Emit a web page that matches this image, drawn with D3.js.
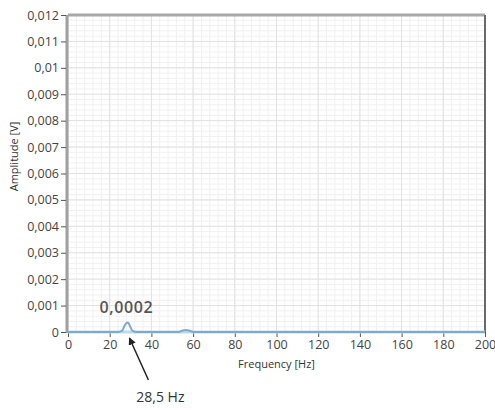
<!DOCTYPE html>
<meta charset="utf-8">
<title>Amplitude spectrum</title>
<script src="https://d3js.org/d3.v7.min.js"></script>
<style>
  body { margin: 0; background: #fff; }
  text { font-family: "Open Sans", sans-serif; }
</style>
<div id="my_dataviz"></div>
<script>

// spectrum
var freq = [0, 24, 26, 27, 28, 28.5, 29, 30, 31, 33, 53, 55, 56.5, 58, 60, 200];
var amp  = [0, 0, 0.00005, 0.00022, 0.00034, 0.00036, 0.00034, 0.00018, 0.00004, 0, 0, 0.00006, 0.00008, 0.00006, 0, 0];

var xTicks = [0, 20, 40, 60, 80, 100, 120, 140, 160, 180, 200];
var yTicks = [0, 0.001, 0.002, 0.003, 0.004, 0.005, 0.006, 0.007, 0.008, 0.009, 0.01, 0.011, 0.012];
var yTickLabels = ["0", "0,001", "0,002", "0,003", "0,004", "0,005", "0,006", "0,007", "0,008", "0,009", "0,01", "0,011", "0,012"];

var peakFreq = 28.5, peakLabel = "0,0002", peakNote = "28,5 Hz";

var margin = {top: 15, right: 10, bottom: 78, left: 68},
    width = 495 - margin.left - margin.right,
    height = 410 - margin.top - margin.bottom;

var svg = d3.select("#my_dataviz")
  .append("svg")
    .attr("width", 495)
    .attr("height", 410)
  .append("g")
    .attr("transform", "translate(" + margin.left + "," + margin.top + ")");

var x = d3.scaleLinear().domain([0, 200]).range([0, width]);
var y = d3.scaleLinear().domain([0, 0.012]).range([height, 0]);

// minor grid
var minorX = d3.range(0, 200.01, 4), minorY = d3.range(0, 0.01201, 0.0002);
svg.append("g").selectAll("line").data(minorX).enter().append("line")
  .attr("x1", d => x(d)).attr("x2", d => x(d)).attr("y1", 0).attr("y2", height)
  .attr("stroke", "#f1f1f1");
svg.append("g").selectAll("line").data(minorY).enter().append("line")
  .attr("y1", d => y(d)).attr("y2", d => y(d)).attr("x1", 0).attr("x2", width)
  .attr("stroke", "#f1f1f1");
// major grid
svg.append("g").selectAll("line").data(xTicks).enter().append("line")
  .attr("x1", d => x(d)).attr("x2", d => x(d)).attr("y1", 0).attr("y2", height)
  .attr("stroke", "#e2e2e2");
svg.append("g").selectAll("line").data(yTicks).enter().append("line")
  .attr("y1", d => y(d)).attr("y2", d => y(d)).attr("x1", 0).attr("x2", width)
  .attr("stroke", "#e2e2e2");

// frame
svg.append("line").attr("x1", 0).attr("x2", width).attr("y1", 0).attr("y2", 0)
  .attr("stroke", "#a8a8a8").attr("stroke-width", 3);
svg.append("line").attr("x1", width).attr("x2", width).attr("y1", 0).attr("y2", height)
  .attr("stroke", "#6a6a6a").attr("stroke-width", 2);
svg.append("line").attr("x1", -1).attr("x2", -1).attr("y1", 0).attr("y2", height + 1)
  .attr("stroke", "#a0a0a0").attr("stroke-width", 3);

// axes
var xAxis = svg.append("g")
  .attr("transform", "translate(0," + height + ")")
  .call(d3.axisBottom(x).tickValues(xTicks).tickSize(5).tickPadding(3));
var yAxis = svg.append("g")
  .attr("transform", "translate(-2,0)")
  .call(d3.axisLeft(y).tickValues(yTicks).tickSize(5).tickPadding(2)
    .tickFormat((d, i) => yTickLabels[i]));
[xAxis, yAxis].forEach(function(a) {
  a.select(".domain").remove();
  a.selectAll(".tick line").attr("stroke", "#555");
  a.selectAll(".tick text").attr("fill", "#444").attr("font-size", "12.5px")
    .style("font-family", "Open Sans, sans-serif");
});

// baseline + trace
svg.append("line").attr("x1", 0).attr("x2", width).attr("y1", y(0)).attr("y2", y(0))
  .attr("stroke", "#bcdbe6").attr("stroke-width", 3);
var line = d3.line().x(d => x(d[0])).y(d => y(d[1])).curve(d3.curveMonotoneX);
svg.append("path")
  .datum(freq.map((f, i) => [f, amp[i]]))
  .attr("d", line)
  .attr("fill", "none")
  .attr("stroke", "#7eaacd")
  .attr("stroke-width", 2);

// axis titles
svg.append("text")
  .attr("x", width / 2).attr("y", height + 36)
  .attr("text-anchor", "middle").attr("font-size", "11px").attr("fill", "#333")
  .text("Frequency [Hz]");
svg.append("text")
  .attr("transform", "rotate(-90)")
  .attr("x", -height / 2 + 17).attr("y", -50)
  .attr("text-anchor", "middle").attr("font-size", "11px").attr("fill", "#333")
  .text("Amplitude [V]");

// annotations
svg.append("text")
  .attr("x", x(peakFreq) - 1).attr("y", y(0.001) + 7)
  .attr("text-anchor", "middle").attr("font-size", "16px").attr("font-weight", 600)
  .attr("letter-spacing", "0.6px")
  .attr("fill", "#555").text(peakLabel);

svg.append("defs").append("marker")
  .attr("id", "arr").attr("viewBox", "0 0 10 10").attr("refX", 9).attr("refY", 5)
  .attr("markerWidth", 5).attr("markerHeight", 5).attr("orient", "auto")
  .append("path").attr("d", "M0,0L10,5L0,10z").attr("fill", "#222");
svg.append("line")
  .attr("x1", x(peakFreq) + 21).attr("y1", height + 48)
  .attr("x2", x(peakFreq) + 2).attr("y2", height + 6)
  .attr("stroke", "#222").attr("stroke-width", 1.5)
  .attr("marker-end", "url(#arr)");
svg.append("text")
  .attr("x", x(peakFreq) + 33).attr("y", height + 70)
  .attr("text-anchor", "middle").attr("font-size", "14px").attr("fill", "#333")
  .text(peakNote);

</script>
